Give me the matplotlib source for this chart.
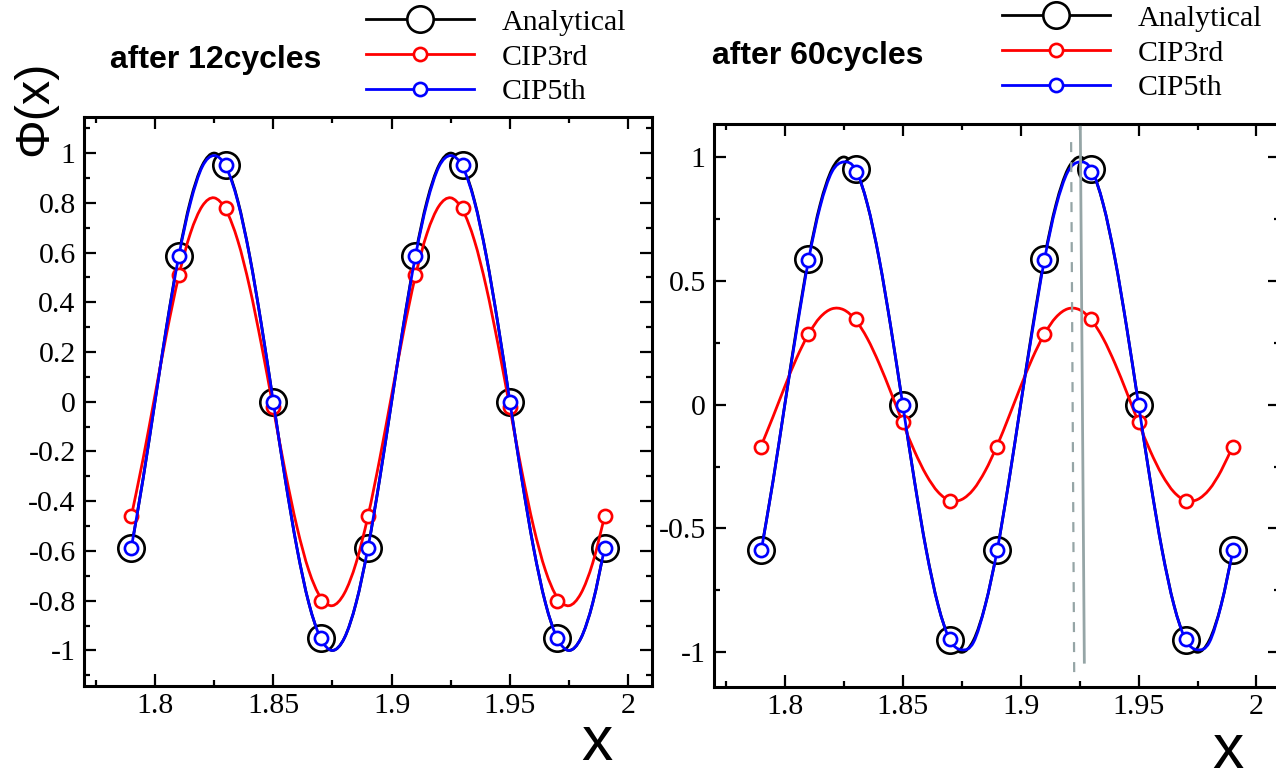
import numpy as np
import matplotlib
matplotlib.use('Agg')
import matplotlib.pyplot as plt
from matplotlib.lines import Line2D
from matplotlib.path import Path
from matplotlib.patches import PathPatch
from matplotlib.ticker import MultipleLocator, FuncFormatter

plt.rcParams['font.family'] = ['Liberation Serif', 'DejaVu Serif']
plt.rcParams['axes.unicode_minus'] = False

# sample points (markers)
x_pts = [1.79, 1.81, 1.83, 1.85, 1.87, 1.89, 1.91, 1.93, 1.95, 1.97, 1.99]
ana_pts = [-0.588, 0.588, 0.951, 0.0, -0.951, -0.588, 0.588, 0.951, 0.0, -0.951, -0.588]
cip3_pts_12 = [-0.46, 0.51, 0.78, -0.02, -0.80, -0.46, 0.51, 0.78, -0.02, -0.80, -0.46]
cip5_pts_12 = [-0.588, 0.588, 0.951, 0.0, -0.951, -0.588, 0.588, 0.951, 0.0, -0.951, -0.588]
cip3_pts_60 = [-0.17, 0.285, 0.345, -0.07, -0.39, -0.17, 0.285, 0.345, -0.07, -0.39, -0.17]
cip5_pts_60 = [-0.585, 0.585, 0.94, 0.0, -0.945, -0.585, 0.585, 0.94, 0.0, -0.945, -0.585]

# curves read every 0.005 from 1.79 to 1.99
x_line = np.round(1.79 + 0.005 * np.arange(41), 3)
ana_line = [-0.588, -0.309, 0.0, 0.309, 0.588, 0.809, 0.951, 1.0, 0.951, 0.809,
            0.588, 0.309, 0.0, -0.309, -0.588, -0.809, -0.951, -1.0, -0.951, -0.809,
            -0.588, -0.309, 0.0, 0.309, 0.588, 0.809, 0.951, 1.0, 0.951, 0.809,
            0.588, 0.309, 0.0, -0.309, -0.588, -0.809, -0.951, -1.0, -0.951, -0.809, -0.588]
cip3_line_12 = [-0.461, -0.229, 0.026, 0.278, 0.503, 0.678, 0.787, 0.82, 0.771, 0.648,
                0.461, 0.229, -0.026, -0.278, -0.503, -0.678, -0.787, -0.82, -0.771, -0.648,
                -0.461, -0.229, 0.026, 0.278, 0.503, 0.678, 0.787, 0.82, 0.771, 0.648,
                0.461, 0.229, -0.026, -0.278, -0.503, -0.678, -0.787, -0.82, -0.771, -0.648, -0.461]
cip5_line_12 = [-0.588, -0.309, 0.0, 0.306, 0.582, 0.80, 0.945, 0.99, 0.945, 0.805,
                0.586, 0.309, 0.0, -0.309, -0.588, -0.809, -0.951, -1.0, -0.951, -0.809,
                -0.588, -0.309, 0.0, 0.306, 0.582, 0.80, 0.945, 0.99, 0.945, 0.805,
                0.586, 0.309, 0.0, -0.309, -0.588, -0.809, -0.951, -1.0, -0.951, -0.809, -0.588]
cip3_line_60 = [-0.166, -0.049, 0.073, 0.188, 0.284, 0.353, 0.387, 0.383, 0.342, 0.267,
                0.166, 0.049, -0.073, -0.188, -0.284, -0.353, -0.387, -0.383, -0.342, -0.267,
                -0.166, -0.049, 0.073, 0.188, 0.284, 0.353, 0.387, 0.383, 0.342, 0.267,
                0.166, 0.049, -0.073, -0.188, -0.284, -0.353, -0.387, -0.383, -0.342, -0.267, -0.166]
cip5_line_60 = [-0.59, -0.31, 0.0, 0.30, 0.58, 0.80, 0.94, 0.98, 0.95, 0.81,
                0.59, 0.31, 0.0, -0.31, -0.59, -0.81, -0.95, -0.99, -0.96, -0.81,
                -0.59, -0.31, 0.0, 0.30, 0.58, 0.80, 0.94, 0.98, 0.95, 0.81,
                0.59, 0.31, 0.0, -0.31, -0.59, -0.81, -0.95, -0.99, -0.96, -0.81, -0.59]

# grey reference lines on the 60 cycle panel
solid_x = [1.9253, 1.927]
solid_y = [1.12, -1.04]
dash_x = [1.9214, 1.9227]
dash_y = [1.06, -1.085]

labels = ['Analytical', 'CIP3rd', 'CIP5th']
sans = ['Liberation Sans', 'DejaVu Sans']
LW = 2.0


def smooth_line(ax, x, y, **kw):
    # draw a smooth curve through the points (Catmull-Rom as bezier segments)
    pts = np.column_stack([np.asarray(x, float), np.asarray(y, float)])
    ext = np.vstack([pts[0], pts, pts[-1]])
    verts = [pts[0]]
    codes = [Path.MOVETO]
    for i in range(len(pts) - 1):
        p0, p1, p2, p3 = ext[i], ext[i + 1], ext[i + 2], ext[i + 3]
        verts += [p1 + (p2 - p0) / 6, p2 - (p3 - p1) / 6, p2]
        codes += [Path.CURVE4] * 3
    ax.add_patch(PathPatch(Path(verts, codes), fill=False, **kw))


def tick_fmt(v, pos):
    v = round(v, 6)
    if v == 0:
        return '0'
    return f'{v:g}'


def draw_panel(ax, cip3_line, cip5_line, cip3_pts, cip5_pts):
    smooth_line(ax, x_line, ana_line, edgecolor='k', lw=LW, zorder=2)
    ax.plot(x_pts, ana_pts, ls='none', marker='o', ms=19, mfc='white', mec='k', mew=1.9, zorder=3)
    smooth_line(ax, x_line, cip3_line, edgecolor='red', lw=LW, zorder=4)
    ax.plot(x_pts, cip3_pts, ls='none', marker='o', ms=9.5, mfc='white', mec='red', mew=1.9, zorder=5)
    smooth_line(ax, x_line, cip5_line, edgecolor='blue', lw=LW, zorder=6)
    ax.plot(x_pts, cip5_pts, ls='none', marker='o', ms=9.5, mfc='white', mec='blue', mew=1.9, zorder=7)
    ax.set_xlim(1.77, 2.01)
    ax.xaxis.set_major_locator(MultipleLocator(0.05))
    ax.xaxis.set_minor_locator(MultipleLocator(0.025))
    ax.xaxis.set_major_formatter(FuncFormatter(tick_fmt))
    ax.yaxis.set_major_formatter(FuncFormatter(tick_fmt))
    ax.tick_params(which='both', direction='in', top=True, right=True, labelsize=21.5, width=1.6)
    ax.tick_params(which='major', length=8.5)
    ax.tick_params(which='minor', length=4.5)
    ax.tick_params(axis='x', pad=5)
    for sp in ax.spines.values():
        sp.set_linewidth(2.2)


fig = plt.figure(figsize=(12.76, 7.79), dpi=100)

ax1 = fig.add_axes([0.0658, 0.1194, 0.4451, 0.7304])
draw_panel(ax1, cip3_line_12, cip5_line_12, cip3_pts_12, cip5_pts_12)
ax1.set_ylim(-1.143, 1.145)
ax1.yaxis.set_major_locator(MultipleLocator(0.2))
ax1.yaxis.set_minor_locator(MultipleLocator(0.1))
ax1.tick_params(axis='y', pad=6)

ax2 = fig.add_axes([0.5596, 0.1181, 0.4436, 0.7227])
draw_panel(ax2, cip3_line_60, cip5_line_60, cip3_pts_60, cip5_pts_60)
ax2.plot(solid_x, solid_y, color='#95a5a6', lw=2.0, zorder=8)
ax2.plot(dash_x, dash_y, color='#95a5a6', lw=1.6, ls=(0, (4.5, 4.5)), zorder=8)
ax2.set_ylim(-1.14, 1.133)
ax2.yaxis.set_major_locator(MultipleLocator(0.5))
ax2.yaxis.set_minor_locator(MultipleLocator(0.25))
ax2.tick_params(axis='y', pad=6)

handles = [
    Line2D([], [], color='k', lw=LW, marker='o', ms=19, mfc='white', mec='k', mew=1.9),
    Line2D([], [], color='red', lw=LW, marker='o', ms=9.5, mfc='white', mec='red', mew=1.9),
    Line2D([], [], color='blue', lw=LW, marker='o', ms=9.5, mfc='white', mec='blue', mew=1.9),
]
for ax, lx, ly in [(ax1, 366 / 1276, 1 - 9 / 779), (ax2, 1002 / 1276, 1 - 5 / 779)]:
    ax.legend(handles, labels, loc='upper left', bbox_to_anchor=(lx, ly),
              bbox_transform=fig.transFigure, frameon=False, fontsize=21.5,
              handlelength=3.6, handletextpad=0.95, labelspacing=0.26,
              borderpad=0, borderaxespad=0)

fig.text(110 / 1276, 1 - 60 / 779, 'after 12cycles', family=sans, weight='bold', fontsize=23, va='center')
fig.text(712 / 1276, 1 - 56 / 779, 'after 60cycles', family=sans, weight='bold', fontsize=23, va='center')
fig.text(35 / 1276, 1 - 108 / 779, 'Φ(x)', family=sans, fontsize=35, rotation=90, ha='center', va='center')
fig.text(597 / 1276, 1 - 743 / 779, 'x', family=sans, fontsize=45, ha='center', va='center')
fig.text(1228 / 1276, 1 - 751 / 779, 'x', family=sans, fontsize=45, ha='center', va='center')

fig.savefig('out.png', dpi=100)
